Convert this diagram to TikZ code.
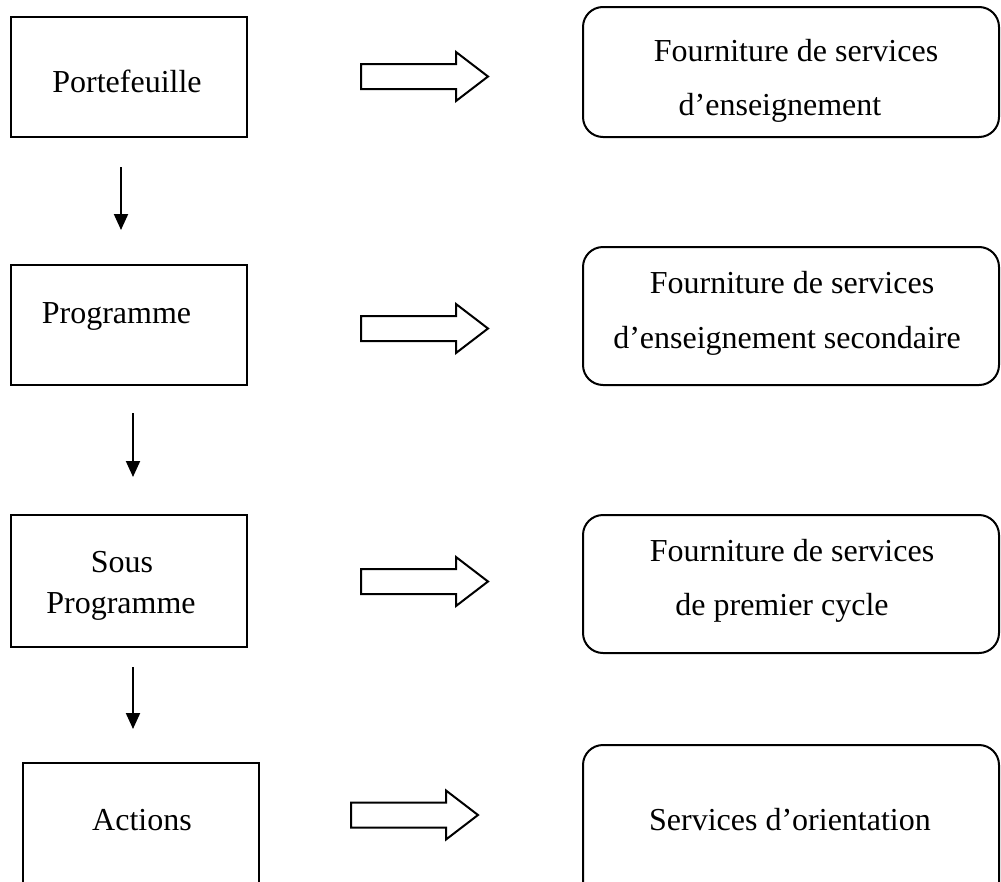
\documentclass[tikz,border=0pt]{standalone}
\usepackage{fontspec}
\setmainfont{Liberation Serif}
\usetikzlibrary{arrows.meta}
\begin{document}
\begin{tikzpicture}[x=1pt,y=-1pt,
  box/.style={draw, line width=2pt, rectangle, inner sep=0pt, outer sep=0pt},
  roundbox/.style={box, rounded corners=20pt},
  lbl/.style={anchor=base, inner sep=0pt, font=\fontsize{32}{38}\selectfont},
  down/.style={line width=2pt, -{Triangle[width=14pt,length=16pt]}},
  fat/.style={line width=2pt, line join=miter},
  fatarrow/.pic={\draw[fat] (0,-12.5) -- (95,-12.5) -- (95,-24.5) -- (127,0)
                 -- (95,24.5) -- (95,12.5) -- (0,12.5) -- cycle;}]
\useasboundingbox (0,0) rectangle (1001,881);
\clip (0,0) rectangle (1001,881);

% levels of the budget structure
\node[box, minimum width=236pt, minimum height=120pt] (b1) at (129,77) {};
\node[box, minimum width=236pt, minimum height=120pt] (b2) at (129,325) {};
\node[box, minimum width=236pt, minimum height=132pt] (b3) at (129,581) {};
\node[box, minimum width=236pt, minimum height=157pt] (b4) at (141,841.5) {};

\node[lbl] (t1)  at (127,92)    {Portefeuille};
\node[lbl] (t2)  at (116.5,323) {Programme};
\node[lbl] (t3a) at (122,572)   {Sous};
\node[lbl] (t3b) at (121,613)   {Programme};
\node[lbl] (t4)  at (142,830)   {Actions};

% corresponding services
\node[roundbox, minimum width=416pt, minimum height=130pt] (r1) at (791,72) {};
\node[roundbox, minimum width=416pt, minimum height=138pt] (r2) at (791,316) {};
\node[roundbox, minimum width=416pt, minimum height=138pt] (r3) at (791,584) {};
\node[roundbox, minimum width=416pt, minimum height=175pt] (r4) at (791,832.5) {};

\node[lbl] (s1a) at (796,61)  {Fourniture de services};
\node[lbl] (s1b) at (780,115) {d’enseignement};
\node[lbl] (s2a) at (792,293) {Fourniture de services};
\node[lbl] (s2b) at (787,348) {d’enseignement secondaire};
\node[lbl] (s3a) at (792,561) {Fourniture de services};
\node[lbl] (s3b) at (782,615) {de premier cycle};
\node[lbl] (s4)  at (790,830) {Services d’orientation};

% hierarchy arrows
\draw[down] ([xshift=-8pt,yshift=-30pt]b1.south) -- ([xshift=-8pt,yshift=35pt]b2.north);
\draw[down] ([xshift=4pt,yshift=-28pt]b2.south) -- ([xshift=4pt,yshift=38pt]b3.north);
\draw[down] ([xshift=4pt,yshift=-20pt]b3.south) -- ([xshift=-8pt,yshift=34pt]b4.north);

% block arrows towards the services
\coordinate (f1) at (361,76.5);
\coordinate (f2) at (361,328.5);
\coordinate (f3) at (361,581.5);
\coordinate (f4) at (351,815);
\pic at (f1) {fatarrow};
\pic at (f2) {fatarrow};
\pic at (f3) {fatarrow};
\pic at (f4) {fatarrow};
\end{tikzpicture}
\end{document}
